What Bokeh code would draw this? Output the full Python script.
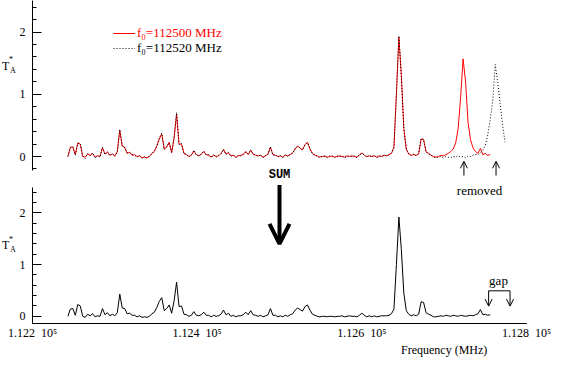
import numpy as np
from bokeh.plotting import figure
from bokeh.layouts import column, row
from bokeh.models import (FixedTicker, Range1d, Label, Arrow, OpenHead,
                          Legend, LegendItem, LinearAxis)
from bokeh.embed import file_html
from bokeh.resources import INLINE

# ---------------- data ----------------
FREQ_START = 112243.0   # MHz, first channel
CHAN_MHZ = 3.0          # channel spacing

t_f0_112500 = [
    0.00, 0.15, 0.15, 0.03, 0.22, 0.20, 0.00, -0.01, 0.04, 0.02,
    0.05, -0.01, 0.01, 0.00, 0.14, 0.04, 0.07, 0.02, 0.04, 0.01,
    0.08, 0.42, 0.17, 0.15, 0.05, 0.07, 0.02, 0.03, 0.00, 0.01,
    -0.02, -0.01, -0.02, 0.00, 0.05, 0.08, 0.17, 0.28, 0.36, 0.12,
    0.15, 0.23, 0.06, 0.30, 0.68, 0.20, 0.20, 0.05, 0.03, 0.00,
    0.02, 0.09, 0.03, 0.01, 0.04, 0.08, 0.03, 0.02, -0.01, 0.02,
    0.00, 0.01, 0.05, 0.11, 0.04, 0.06, 0.01, 0.02, -0.01, 0.01,
    0.02, 0.03, 0.08, 0.03, 0.10, 0.04, 0.02, 0.01, 0.02, -0.01,
    0.01, 0.04, 0.15, 0.03, 0.02, 0.00, 0.01, -0.01, 0.02, 0.01,
    0.03, 0.06, 0.12, 0.17, 0.13, 0.11, 0.19, 0.23, 0.12, 0.05,
    0.02, 0.01, -0.01, 0.00, 0.01, -0.01, 0.00, 0.01, -0.01, 0.00,
    0.01, 0.00, -0.01, 0.01, 0.00, 0.01, 0.00, -0.01, 0.02, 0.06,
    0.02, 0.00, 0.01, 0.00, 0.01, -0.01, 0.01, 0.00, 0.02, 0.01,
    0.03, 0.05, 0.15, 1.00, 1.92, 1.30, 0.45, 0.12, 0.04, 0.02,
    0.03, 0.02, 0.04, 0.28, 0.27, 0.08, 0.05, 0.02, 0.00, -0.01,
    0.00, 0.02, 0.01, 0.03, 0.05, 0.08, 0.12, 0.22, 0.45, 0.95,
    1.57, 1.20, 0.55, 0.27, 0.14, 0.08, 0.05, 0.13, 0.03, 0.05,
    0.02, 0.03,
]

t_f0_112520 = [
    0.00, 0.14, 0.16, 0.02, 0.21, 0.21, 0.01, -0.03, 0.05, 0.01,
    0.06, -0.02, 0.02, -0.01, 0.15, 0.03, 0.08, 0.01, 0.05, 0.00,
    0.07, 0.44, 0.16, 0.14, 0.06, 0.06, 0.03, 0.02, -0.01, 0.02,
    -0.03, 0.00, -0.03, 0.01, 0.04, 0.09, 0.16, 0.30, 0.38, 0.11,
    0.16, 0.22, 0.07, 0.31, 0.71, 0.19, 0.21, 0.04, 0.04, -0.01,
    0.03, 0.10, 0.02, 0.02, 0.03, 0.09, 0.02, 0.03, -0.02, 0.03,
    -0.01, 0.02, 0.04, 0.12, 0.03, 0.07, 0.00, 0.03, -0.02, 0.02,
    0.01, 0.04, 0.07, 0.04, 0.11, 0.03, 0.03, 0.00, 0.03, -0.02,
    0.02, 0.03, 0.16, 0.02, 0.03, -0.01, 0.02, -0.02, 0.03, 0.00,
    0.04, 0.05, 0.13, 0.16, 0.14, 0.10, 0.20, 0.22, 0.13, 0.04,
    0.03, 0.00, -0.02, 0.01, 0.00, -0.02, 0.01, 0.00, -0.02, 0.01,
    0.00, 0.01, -0.02, 0.00, 0.01, 0.00, 0.01, -0.02, 0.03, 0.05,
    0.03, -0.01, 0.02, -0.01, 0.02, -0.02, 0.00, 0.01, 0.01, 0.02,
    0.02, 0.06, 0.14, 1.02, 1.94, 1.28, 0.46, 0.11, 0.05, 0.01,
    0.04, 0.01, 0.05, 0.29, 0.28, 0.07, 0.04, 0.03, -0.01, -0.02,
    -0.01, 0.00, -0.02, 0.00, -0.01, -0.02, 0.00, -0.01, 0.01, -0.01,
    0.00, -0.02, 0.01, 0.00, 0.02, 0.03, 0.03, 0.06, 0.10, 0.18,
    0.35, 0.60, 0.90, 1.48, 1.20, 0.85, 0.50, 0.23,
]

t_sum = [
    0.00, 0.14, 0.15, 0.02, 0.23, 0.20, 0.00, -0.02, 0.04, 0.01,
    0.05, -0.01, 0.01, 0.00, 0.15, 0.03, 0.07, 0.01, 0.04, 0.01,
    0.07, 0.43, 0.16, 0.15, 0.05, 0.06, 0.02, 0.02, -0.01, 0.01,
    -0.02, -0.01, -0.02, 0.00, 0.05, 0.08, 0.17, 0.29, 0.36, 0.11,
    0.15, 0.22, 0.06, 0.30, 0.66, 0.19, 0.20, 0.04, 0.03, 0.00,
    0.02, 0.09, 0.02, 0.01, 0.03, 0.08, 0.02, 0.02, -0.01, 0.02,
    0.00, 0.01, 0.04, 0.12, 0.03, 0.06, 0.00, 0.02, -0.01, 0.01,
    0.01, 0.03, 0.08, 0.03, 0.11, 0.03, 0.02, 0.00, 0.02, -0.01,
    0.01, 0.03, 0.15, 0.02, 0.02, -0.01, 0.01, -0.01, 0.02, 0.00,
    0.03, 0.05, 0.12, 0.16, 0.13, 0.10, 0.19, 0.22, 0.12, 0.04,
    0.02, 0.00, -0.01, 0.00, 0.00, -0.01, 0.00, 0.00, -0.01, 0.00,
    0.00, 0.01, -0.01, 0.00, 0.01, 0.00, 0.00, -0.01, 0.02, 0.06,
    0.02, -0.01, 0.01, -0.01, 0.01, -0.01, 0.00, 0.01, 0.01, 0.01,
    0.02, 0.05, 0.14, 1.00, 1.92, 1.29, 0.45, 0.11, 0.04, 0.01,
    0.03, 0.01, 0.04, 0.28, 0.27, 0.07, 0.04, 0.02, -0.01, -0.01,
    0.00, 0.01, 0.00, 0.02, 0.01, 0.00, 0.02, 0.01, 0.00, 0.02,
    0.01, 0.00, 0.01, 0.02, 0.01, 0.03, 0.05, 0.13, 0.03, 0.04,
    0.02, 0.03,
]

x_major = [112200, 112400, 112600, 112800]
x_major_labels = ["1.122\u00a0\u00a010\u2075", "1.124\u00a0\u00a010\u2075",
                  "1.126\u00a0\u00a010\u2075", "1.128\u00a0\u00a010\u2075"]
x_minor = [112200 + 50 * k for k in range(13)]
x_title_at = [112700]
x_title = ["Frequency (MHz)"]
y_major = [0, 1, 2]
y_minor = [-0.2, 0.2, 0.4, 0.6, 0.8, 1.2, 1.4, 1.6, 1.8, 2.2, 2.4]
legend_labels = ["f\u2080=112500 MHz", "f\u2080=112520 MHz"]
removed_freqs = [112724, 112763]
gap_freqs = [112754, 112780]
sum_freq = 112500

# ---------------- layout constants ----------------
SERIF = "Liberation Serif"
X_RANGE = (112200, 112800)
LW = 16            # strip holding the T*A axis titles
FULL_W = 552
W = FULL_W - LW
BL, BR = 16, 26
H1, H2, H3 = 183, 140, 36
Y_SPLIT = -0.139   # value where the bottom panel hands over to the axis strip


def style_yaxis(ax, lo, hi, ticks=y_major, minor=y_minor):
    ax.ticker = FixedTicker(ticks=ticks, minor_ticks=minor)
    ax.bounds = (lo, hi)
    ax.major_tick_in = 9
    ax.major_tick_out = 0
    ax.minor_tick_in = 4
    ax.minor_tick_out = 0
    ax.major_label_standoff = 7
    ax.major_label_text_font = SERIF
    ax.major_label_text_font_size = "12px"
    ax.major_label_text_color = "black"
    ax.axis_line_color = "black"
    ax.major_tick_line_color = "black"
    ax.minor_tick_line_color = "black"


def text_strip(w, h):
    """figure whose frame is the whole canvas; data coords = pixels, y down"""
    s = figure(width=w, height=h, x_range=Range1d(0, w), y_range=Range1d(h, 0),
               output_backend="svg", toolbar_location=None,
               x_axis_location=None, y_axis_location=None,
               min_border_left=0, min_border_right=0,
               min_border_top=0, min_border_bottom=0)
    s.grid.visible = False
    s.outline_line_color = None
    return s


def strip_text(s, x, y, txt, size):
    s.add_layout(Label(x=x, y=y, text=txt, text_font=SERIF, text_font_size=size,
                       text_align="left", text_baseline="alphabetic",
                       text_color="black"))


def ylabel_strip(h, y_T, y_star, y_A):
    s = text_strip(LW, h)
    strip_text(s, 1.5, y_T, "T", "12px")
    strip_text(s, 8.5, y_star, "*", "8px")
    strip_text(s, 9.5, y_A, "A", "8px")
    return s


freq_dot = FREQ_START + CHAN_MHZ * np.arange(len(t_f0_112520))
freq_red = freq_dot[:len(t_f0_112500)]
freq_sum = freq_dot[:len(t_sum)]

# ---------------- top panel ----------------
p1 = figure(width=W, height=H1, x_range=Range1d(*X_RANGE),
            y_range=Range1d(-0.434, 2.508), output_backend="svg",
            toolbar_location=None, x_axis_location=None,
            min_border_left=BL, min_border_right=BR,
            min_border_top=0, min_border_bottom=0)
p1.grid.visible = False
p1.outline_line_color = None
style_yaxis(p1.yaxis[0], -0.23, 2.508)

r_red = p1.line(freq_red, t_f0_112500, line_color="#ff0000", line_width=1)
r_dot = p1.line(freq_dot, t_f0_112520, line_color="black", line_width=1,
                line_dash="1 2")

for lab, rend, col, loc in [(legend_labels[0], r_red, "#ff0000", (81, 142)),
                            (legend_labels[1], r_dot, "black", (81, 127))]:
    leg = Legend(items=[LegendItem(label=lab, renderers=[rend])], location=loc,
                 padding=0, margin=0, spacing=0, label_standoff=2,
                 glyph_width=22, glyph_height=12, label_height=12,
                 label_text_font=SERIF, label_text_font_size="13px",
                 label_text_color=col, background_fill_alpha=0,
                 border_line_color=None)
    p1.add_layout(leg)

for f in removed_freqs:
    p1.add_layout(Arrow(end=OpenHead(size=7, line_width=1, line_color="black"),
                        x_start=f, y_start=-0.307, x_end=f, y_end=-0.077,
                        line_width=1, line_color="black"))

p1.add_layout(Label(x=sum_freq, y=-0.305, text="SUM", text_font="Liberation Mono",
                    text_font_size="12px", text_font_style="bold",
                    text_align="center", text_baseline="middle", text_color="black"))

# ---------------- bottom panel (spectrum part) ----------------
p2 = figure(width=W, height=H2, x_range=Range1d(*X_RANGE),
            y_range=Range1d(Y_SPLIT, 2.569), output_backend="svg",
            toolbar_location=None, x_axis_location=None,
            min_border_left=BL, min_border_right=BR,
            min_border_top=0, min_border_bottom=0)
p2.grid.visible = False
p2.outline_line_color = None
style_yaxis(p2.yaxis[0], Y_SPLIT, 2.5)

p2.line(freq_sum, t_sum, line_color="black", line_width=1)

p2.add_layout(Label(x=112743, y=2.443, text="removed", text_font=SERIF,
                    text_font_size="13px", text_align="center",
                    text_baseline="middle", text_color="black"))

p2.add_layout(Arrow(end=OpenHead(size=20, line_width=4, line_color="black"),
                    x_start=sum_freq, y_start=2.54, x_end=sum_freq, y_end=1.40,
                    line_width=4, line_color="black"))

p2.add_layout(Label(x=112766, y=0.685, text="gap", text_font=SERIF,
                    text_font_size="13px", text_align="center",
                    text_baseline="middle", text_color="black"))
p2.add_layout(Arrow(end=None, x_start=gap_freqs[0], y_start=0.493,
                    x_end=gap_freqs[1], y_end=0.493, line_width=1,
                    line_color="black"))
for f in gap_freqs:
    p2.add_layout(Arrow(end=OpenHead(size=7, line_width=1, line_color="black"),
                        x_start=f, y_start=0.493, x_end=f, y_end=0.197,
                        line_width=1, line_color="black"))

# ---------------- bottom panel (x axis strip, full width) ----------------
p3 = figure(width=FULL_W, height=H3, x_range=Range1d(*X_RANGE),
            y_range=Range1d(-0.255, Y_SPLIT), output_backend="svg",
            toolbar_location=None,
            min_border_left=LW + BL, min_border_right=BR,
            min_border_top=0, min_border_bottom=30)
p3.grid.visible = False
p3.outline_line_color = None
style_yaxis(p3.yaxis[0], -0.255, Y_SPLIT, ticks=[], minor=[-0.2])

xa = p3.xaxis[0]
xa.ticker = FixedTicker(ticks=x_major, minor_ticks=x_minor)
xa.major_label_overrides = dict(zip(x_major, x_major_labels))
xa.major_tick_in = 6
xa.major_tick_out = 0
xa.minor_tick_in = 4
xa.minor_tick_out = 0
xa.major_label_standoff = 2
xa.major_label_text_font = SERIF
xa.major_label_text_font_size = "12px"
xa.major_label_text_color = "black"
xa.axis_line_color = "black"
xa.major_tick_line_color = "black"
xa.minor_tick_line_color = "black"

xt = LinearAxis(ticker=FixedTicker(ticks=x_title_at, minor_ticks=[]),
                major_label_overrides=dict(zip(x_title_at, x_title)),
                axis_line_color=None, major_tick_line_color=None,
                minor_tick_line_color=None, major_tick_in=0, major_tick_out=0,
                minor_tick_in=0, minor_tick_out=0, major_label_standoff=0,
                major_label_text_font=SERIF, major_label_text_font_size="12px",
                major_label_text_color="black")
p3.add_layout(xt, "below")

# ---------------- axis-title strips ----------------
s1 = ylabel_strip(H1, 65, 59, 70)
s2 = ylabel_strip(H2, 61, 56, 66)

layout = column(row(s1, p1), row(s2, p2), p3)
open("out.html", "w").write(file_html(layout, INLINE))
